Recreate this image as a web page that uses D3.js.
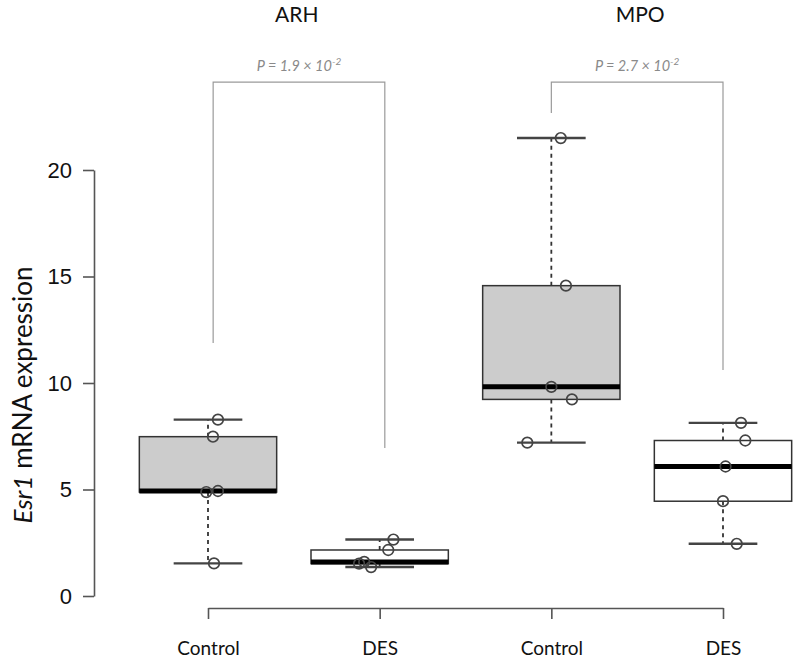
<!DOCTYPE html>
<html>
<head>
<meta charset="utf-8">
<script src="https://cdn.jsdelivr.net/npm/d3@7"></script>
<style>
  html, body { margin: 0; padding: 0; background: #fff; }
  svg { display: block; }
</style>
</head>
<body>
<svg id="chart" width="796" height="663"></svg>
<script>
// ---- data ----
const categories = ["Control", "DES", "Control", "DES"];
const regions = ["ARH", "MPO"];
const arhControl = [1.53, 4.88, 4.93, 7.48, 8.28];
const arhDES = [1.36, 1.52, 1.60, 2.16, 2.65];
const mpoControl = [7.20, 9.23, 9.82, 14.57, 21.50];
const mpoDES = [2.45, 4.45, 6.08, 7.30, 8.13];
// horizontal jitter of each point (category units), as seen in the picture
const jitterArhControl = [0.035, -0.01, 0.058, 0.029, 0.058];
const jitterArhDES = [-0.05, -0.12, -0.09, 0.05, 0.08];
const jitterMpoControl = [-0.14, 0.12, 0.0, 0.085, 0.055];
const jitterMpoDES = [0.08, 0.0, 0.015, 0.13, 0.105];
const yTicks = [0, 5, 10, 15, 20];
const pLabels = [{ base: "P = 1.9 × 10", exp: "-2" }, { base: "P = 2.7 × 10", exp: "-2" }];
// bracket: left/right category, top value, left leg end, right leg end
const brackets = [
  { from: 1.03, to: 2.03, top: 24.13, leftEnd: 11.88, rightEnd: 6.95 },
  { from: 3.0, to: 4.0, top: 24.13, leftEnd: 22.68, rightEnd: 10.61 }
];
const fills = ["#cccccc", "#ffffff", "#cccccc", "#ffffff"];

const groups = [arhControl, arhDES, mpoControl, mpoDES];
const jitters = [jitterArhControl, jitterArhDES, jitterMpoControl, jitterMpoDES];

// ---- scales ----
const svg = d3.select("#chart");
const x = d3.scaleLinear().domain([1, 4]).range([208, 723]);
const y = d3.scaleLinear().domain([0, 20]).range([596, 170]);
const unit = x(2) - x(1);

// ---- y axis ----
const yAxis = d3.axisLeft(y).tickValues(yTicks).tickSize(11).tickPadding(11).tickSizeOuter(0);
const gy = svg.append("g").attr("transform", "translate(94,0)").call(yAxis);
gy.select(".domain").attr("stroke", "#555").attr("stroke-width", 1.6);
gy.selectAll(".tick line").attr("stroke", "#555").attr("stroke-width", 1.6);
gy.selectAll(".tick text").attr("fill", "#111")
  .style("font-family", "'Liberation Sans', Arial, sans-serif").style("font-size", "22px");

// ---- x axis ----
const xAxis = d3.axisBottom(x).tickValues([1, 2, 3, 4]).tickFormat((d, i) => categories[i])
  .tickSize(11).tickPadding(23).tickSizeOuter(0);
const gx = svg.append("g").attr("transform", "translate(0,608)").call(xAxis);
gx.select(".domain").attr("stroke", "#555").attr("stroke-width", 1.6);
gx.selectAll(".tick line").attr("stroke", "#555").attr("stroke-width", 1.6);
gx.selectAll(".tick text").attr("fill", "#111")
  .style("font-family", "Lato, 'Open Sans', sans-serif").style("font-size", "19px");

// ---- y title ----
const yt = svg.append("text")
  .attr("transform", `translate(32,${(y(0) + y(20)) / 2 + 12}) rotate(-90)`)
  .attr("text-anchor", "middle")
  .style("font-family", "Lato, 'Open Sans', sans-serif").style("font-size", "26px").attr("fill", "#111");
yt.append("tspan").style("font-style", "italic").text("Esr1");
yt.append("tspan").text(" mRNA expression");

// ---- region headers ----
svg.selectAll("text.region").data(regions).enter().append("text")
  .attr("class", "region")
  .attr("x", (d, i) => x(2 * i + 1.5) + 3)
  .attr("y", 22)
  .attr("text-anchor", "middle")
  .style("font-family", "Lato, 'Open Sans', sans-serif").style("font-size", "21px").attr("fill", "#111")
  .text(d => d);

// ---- brackets ----
brackets.forEach((b, i) => {
  svg.append("path")
    .attr("d", `M${x(b.from)},${y(b.leftEnd)}V${y(b.top)}H${x(b.to)}V${y(b.rightEnd)}`)
    .attr("fill", "none").attr("stroke", "#9a9a9a").attr("stroke-width", 1.2);
  const t = svg.append("text")
    .attr("x", (x(b.from) + x(b.to)) / 2)
    .attr("y", y(b.top) - 11)
    .attr("text-anchor", "middle")
    .style("font-family", "Lato, 'Open Sans', sans-serif").style("font-size", "14.5px")
    .style("font-style", "italic").attr("fill", "#8a8a8a");
  t.append("tspan").text(pLabels[i].base);
  t.append("tspan").attr("dy", -6).style("font-size", "10px").text(pLabels[i].exp);
});

// ---- boxes ----
groups.forEach((vals, i) => {
  const s = vals.slice().sort(d3.ascending);
  const q1 = d3.quantile(s, 0.25), med = d3.quantile(s, 0.5), q3 = d3.quantile(s, 0.75);
  const lo = s[0], hi = s[s.length - 1];
  const cx = x(i + 1);
  const g = svg.append("g");
  g.append("line").attr("x1", cx).attr("x2", cx).attr("y1", y(q3)).attr("y2", y(hi))
    .attr("stroke", "#333").attr("stroke-width", 1.8).attr("stroke-dasharray", "4,4");
  g.append("line").attr("x1", cx).attr("x2", cx).attr("y1", y(q1)).attr("y2", y(lo))
    .attr("stroke", "#333").attr("stroke-width", 1.8).attr("stroke-dasharray", "4,4");
  [lo, hi].forEach(v => {
    g.append("line").attr("x1", cx - 0.2 * unit).attr("x2", cx + 0.2 * unit)
      .attr("y1", y(v)).attr("y2", y(v)).attr("stroke", "#444").attr("stroke-width", 2.4);
  });
  g.append("rect").attr("x", cx - 0.4 * unit).attr("width", 0.8 * unit)
    .attr("y", y(q3)).attr("height", y(q1) - y(q3))
    .attr("fill", fills[i]).attr("stroke", "#333").attr("stroke-width", 1.5);
  g.append("line").attr("x1", cx - 0.4 * unit).attr("x2", cx + 0.4 * unit)
    .attr("y1", y(med)).attr("y2", y(med)).attr("stroke", "#000").attr("stroke-width", 5);
  g.selectAll("circle").data(vals).enter().append("circle")
    .attr("cx", (d, j) => x(i + 1 + jitters[i][j]))
    .attr("cy", d => y(d))
    .attr("r", 5.3)
    .attr("fill", "none").attr("stroke", "#444").attr("stroke-width", 1.7);
});
</script>
</body>
</html>
